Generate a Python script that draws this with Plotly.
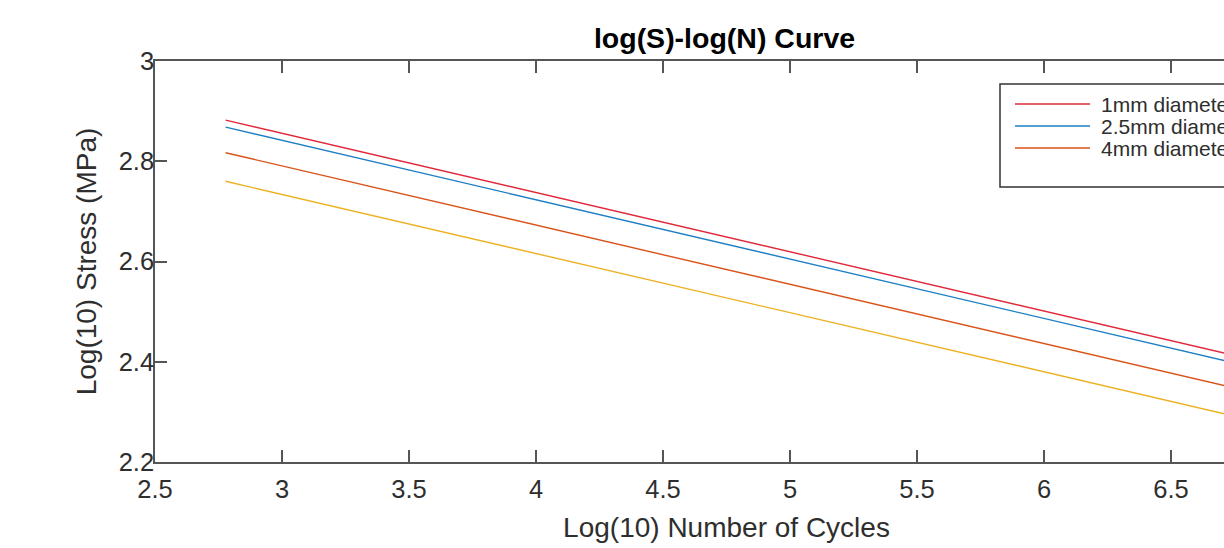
import plotly.graph_objects as go

# S-N data in log10 space: endpoints of each fitted Basquin line
log_cycles = [2.778, 7.0]
stress_1mm = [2.882, 2.383]
stress_2_5mm = [2.868, 2.368]
stress_4mm = [2.817, 2.318]
stress_unlabelled = [2.760, 2.262]

series_names = ["1mm diameter", "2.5mm diameter", "4mm diameter"]

x_ticks = [2.5, 3, 3.5, 4, 4.5, 5, 5.5, 6, 6.5, 7]
y_ticks = [2.2, 2.4, 2.6, 2.8, 3]

FONT = "Liberation Sans, Arial, sans-serif"
AXIS_COLOR = "#555555"
TEXT_COLOR = "#2e2e2e"
COLORS = ["#E0283A", "#1F7FC4", "#D95319", "#EDB120"]

# plot-area geometry (px) used for the boxed legend
W, H = 1400, 548
ML, MR, MT, MB = 155, 102, 61, 86
PW, PH = W - ML - MR, H - MT - MB


def px_x(px):
    return (px - ML) / PW


def px_y(py):
    return (H - MB - py) / PH


fig = go.Figure()
series = [stress_1mm, stress_2_5mm, stress_4mm, stress_unlabelled]
names = series_names + [""]
for vals, name, col in zip(series, names, COLORS):
    fig.add_trace(go.Scatter(x=log_cycles, y=vals, mode="lines", name=name,
                             showlegend=False, line=dict(color=col, width=1.4)))

axis_common = dict(
    showline=True, linecolor=AXIS_COLOR, linewidth=1.5, mirror="ticks",
    ticks="inside", ticklen=12, tickwidth=1.5, tickcolor=AXIS_COLOR,
    showgrid=False, zeroline=False, automargin=False,
    tickfont=dict(family=FONT, size=25.5, color=TEXT_COLOR),
)

fig.update_xaxes(range=[2.5, 7], tickvals=x_ticks, ticklabelstandoff=4,
                 title=dict(text="Log(10) Number of Cycles", standoff=15,
                            font=dict(family=FONT, size=28, color=TEXT_COLOR)),
                 **axis_common)
fig.update_yaxes(range=[2.2, 3], tickvals=y_ticks, ticklabelstandoff=-6,
                 title=dict(text="Log(10) Stress (MPa)", standoff=14,
                            font=dict(family=FONT, size=28, color=TEXT_COLOR)),
                 **axis_common)

# boxed legend in the upper right of the axes
shapes = [dict(type="rect", xref="paper", yref="paper",
               x0=px_x(1000), x1=px_x(1290), y0=px_y(187), y1=px_y(84),
               line=dict(color="#333333", width=1.5), fillcolor="white", layer="above")]
annotations = []
for i, (name, col) in enumerate(zip(series_names, COLORS)):
    row_y = px_y(104 + 22 * i)
    shapes.append(dict(type="line", xref="paper", yref="paper",
                       x0=px_x(1015), x1=px_x(1090), y0=row_y, y1=row_y,
                       line=dict(color=col, width=1.4), layer="above"))
    annotations.append(dict(text=name, xref="paper", yref="paper",
                            x=px_x(1099), y=row_y, xanchor="left", yanchor="middle",
                            showarrow=False,
                            font=dict(family=FONT, size=21, color=TEXT_COLOR)))

fig.update_layout(
    width=W, height=H,
    margin=dict(l=ML, r=MR, t=MT, b=MB),
    paper_bgcolor="white", plot_bgcolor="white",
    title=dict(text="<b>log(S)-log(N) Curve</b>", x=(ML + PW / 2 - 2) / W, xanchor="center",
               y=1 - 38 / H, yanchor="middle",
               font=dict(family=FONT, size=28.5, color="#000000")),
    shapes=shapes,
    annotations=annotations,
    showlegend=False,
)

fig.write_html(
    "out.html",
    post_script="document.documentElement.style.overflow='hidden';document.body.style.overflow='hidden';",
)
